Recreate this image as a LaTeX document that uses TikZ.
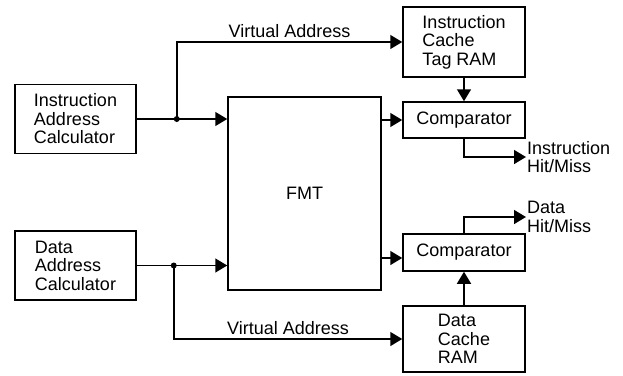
\documentclass[tikz,border=0pt]{standalone}
\usepackage{fontspec}
\setmainfont{Liberation Sans}
\usetikzlibrary{arrows.meta}

\begin{document}
\begin{tikzpicture}[x=1pt,y=-1pt,
    every node/.style={font=\fontsize{18}{18.5}\selectfont},
    block/.style={draw=black, line width=1.5pt, align=left, inner sep=0pt},
    hitlabel/.style={align=left, anchor=west, inner sep=1pt},
    wire/.style={line width=1.5pt},
    arr/.style={wire, -{Triangle[length=12pt,width=14pt]}}]

    \useasboundingbox (0,0) rectangle (623,375);

    \node [block, minimum width=121, minimum height=69] (iac) at (75.5,119) {Instruction\\Address\\Calculator};
    \node [block, minimum width=121, minimum height=69] (dac) at (75.5,265.5) {Data\\Address\\Calculator};
    \node [block, minimum width=153, minimum height=193] (fmt) at (304.5,193.5) {FMT};
    \node [block, minimum width=122, minimum height=70] (ictag) at (464,42) {Instruction\\Cache\\Tag RAM};
    \node [block, minimum width=122, minimum height=36] (icomp) at (464,120) {Comparator};
    \node [block, minimum width=122, minimum height=37] (dcomp) at (464,252.5) {Comparator};
    \node [block, minimum width=122, minimum height=66] (dcram) at (464,339) {Data\\Cache\\RAM};

    \node [hitlabel] (ihm) at (526,157) {Instruction\\Hit/Miss};
    \node [hitlabel] (dhm) at (526,217) {Data\\Hit/Miss};

    \coordinate (ij) at ([xshift=40pt]iac.east);
    \coordinate (dj) at ([xshift=37pt]dac.east);

    % instruction side
    \draw[arr] (iac.east) -- (iac.east -| fmt.west);
    \draw[arr] (ij) |- node[above, pos=0.75] {Virtual Address} (ictag.west);
    \fill (ij) circle (3pt);
    \draw[arr] (fmt.east |- icomp.west) -- (icomp.west);
    \draw[arr] (ictag.south) -- (icomp.north);
    \draw[arr] (icomp.south) |- (ihm.west);

    % data side
    \draw[arr] (dac.east) -- (dac.east -| fmt.west);
    \draw[arr] (dj) |- node[above, pos=0.75] {Virtual Address} (dcram.west);
    \fill (dj) circle (3pt);
    \draw[arr] (fmt.east |- 0,258) -- (dcomp.west |- 0,258);
    \draw[arr] (dcram.north) -- (dcomp.south);
    \draw[arr] (dcomp.north) |- (dhm.west);

\end{tikzpicture}
\end{document}
